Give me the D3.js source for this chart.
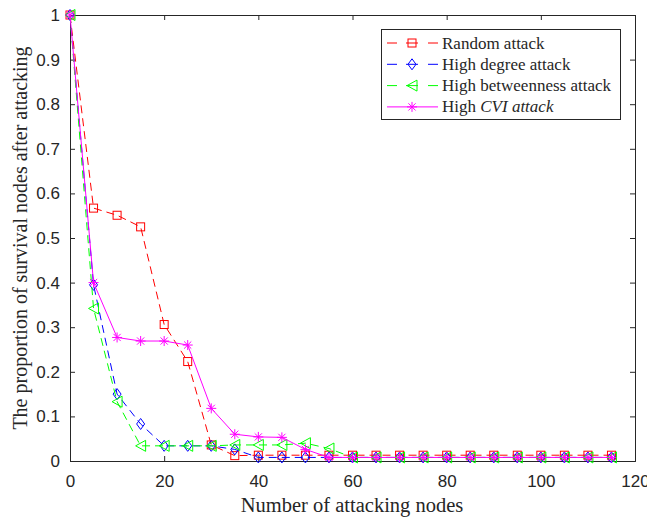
<!DOCTYPE html>
<meta charset="utf-8">
<body style="margin:0;background:#fff">
<svg id="chart" width="647" height="520"></svg>
</body>

<style>
.tick text { font-family: "Liberation Sans", Arial, sans-serif; font-size: 17px; fill: #262626; }
.axis path, .axis line { stroke: #262626; }
.lbl { font-family: "Liberation Serif", "Times New Roman", serif; fill: #262626; }
</style>

<script src="https://d3js.org/d3.v7.min.js"></script>
<script>

// number of attacking nodes
var nodes = [0, 5, 10, 15, 20, 25, 30, 35, 40, 45, 50, 55, 60, 65, 70, 75, 80, 85, 90, 95, 100, 105, 110, 115];

// proportion of survival nodes, one list per attack
var randomAttack = [1, 0.567, 0.551, 0.525, 0.306, 0.223, 0.036, 0.012, 0.013, 0.013, 0.013, 0.013, 0.013, 0.013, 0.013, 0.013, 0.013, 0.013, 0.013, 0.013, 0.013, 0.013, 0.013, 0.013];
var degreeAttack = [1, 0.395, 0.150, 0.083, 0.034, 0.034, 0.034, 0.026, 0.008, 0.008, 0.008, 0.008, 0.008, 0.008, 0.008, 0.008, 0.008, 0.008, 0.008, 0.008, 0.008, 0.008, 0.008, 0.008];
var betweenAttack = [1, 0.342, 0.133, 0.034, 0.034, 0.034, 0.034, 0.036, 0.036, 0.036, 0.040, 0.028, 0.008, 0.008, 0.008, 0.008, 0.008, 0.008, 0.008, 0.008, 0.008, 0.008, 0.008, 0.008];
var cviAttack = [1, 0.400, 0.277, 0.269, 0.269, 0.260, 0.118, 0.060, 0.054, 0.053, 0.026, 0.008, 0.008, 0.008, 0.008, 0.008, 0.008, 0.008, 0.008, 0.008, 0.008, 0.008, 0.008, 0.008];

var xTicks = [0, 20, 40, 60, 80, 100, 120];
var yTicks = [0, 0.1, 0.2, 0.3, 0.4, 0.5, 0.6, 0.7, 0.8, 0.9, 1];

var series = [
  {name: "Random attack", values: randomAttack, color: "#ff0000", dash: "8,5", marker: "square"},
  {name: "High degree attack", values: degreeAttack, color: "#0000ff", dash: "8,5", marker: "diamond"},
  {name: "High betweenness attack", values: betweenAttack, color: "#00ff00", dash: "8,5", marker: "triangle"},
  {name: "High CVI attack", values: cviAttack, color: "#ff00ff", dash: null, marker: "star"}
];

var svg = d3.select("#chart");
var mLeft = 70, mRight = 635, mTop = 15, mBottom = 461;

var x = d3.scaleLinear().domain([0, 120]).range([mLeft, mRight]);
var y = d3.scaleLinear().domain([0, 1]).range([mBottom, mTop]);

// axes, ticks pointing inward like matlab
svg.append("g").attr("class", "axis")
    .attr("transform", "translate(0," + mBottom + ")")
    .call(d3.axisBottom(x).tickValues(xTicks).tickSize(-5).tickPadding(14).tickFormat(d3.format("d")));
svg.append("g").attr("class", "axis")
    .attr("transform", "translate(" + mLeft + ",0)")
    .call(d3.axisLeft(y).tickValues(yTicks).tickSize(-5).tickPadding(10).tickFormat(d => d === 0 || d === 1 ? d : d3.format(".1f")(d)));
svg.append("g").attr("class", "axis")
    .attr("transform", "translate(0," + mTop + ")")
    .call(d3.axisTop(x).tickValues(xTicks).tickSize(-5).tickFormat(""));
svg.append("g").attr("class", "axis")
    .attr("transform", "translate(" + mRight + ",0)")
    .call(d3.axisRight(y).tickValues(yTicks).tickSize(-5).tickFormat(""));
svg.selectAll(".axis .domain").attr("stroke-width", 1);

// markers
function drawMarker(g, type, color) {
  if (type == "square") {
    g.append("rect").attr("x", -4).attr("y", -4).attr("width", 8).attr("height", 8)
        .attr("fill", "none").attr("stroke", color);
  } else if (type == "diamond") {
    g.append("path").attr("d", "M0,-5.5L4,0L0,5.5L-4,0Z").attr("fill", "none").attr("stroke", color);
  } else if (type == "triangle") {
    g.append("path").attr("d", "M-5,0L5,-5.5L5,5.5Z").attr("fill", "none").attr("stroke", color);
  } else {
    g.append("path").attr("d", "M0,-5V5M-5,0H5M-3.6,-3.6L3.6,3.6M-3.6,3.6L3.6,-3.6")
        .attr("fill", "none").attr("stroke", color);
  }
}

var line = d3.line().x((d, i) => x(nodes[i])).y(d => y(d));

series.forEach(function(s) {
  svg.append("path")
      .datum(s.values)
      .attr("d", line)
      .attr("fill", "none")
      .attr("stroke", s.color)
      .attr("stroke-width", 1)
      .attr("stroke-dasharray", s.dash);

  svg.append("g").selectAll("g")
    .data(s.values)
    .enter()
    .append("g")
      .attr("transform", (d, i) => "translate(" + x(nodes[i]) + "," + y(d) + ")")
      .each(function() { drawMarker(d3.select(this), s.marker, s.color); });
});

// axis labels
svg.append("text").attr("class", "lbl")
    .attr("x", 352).attr("y", 512)
    .attr("text-anchor", "middle").style("font-size", "20.5px")
    .text("Number of attacking nodes");
svg.append("text").attr("class", "lbl")
    .attr("transform", "translate(27," + (mTop + mBottom) / 2 + ") rotate(-90)")
    .attr("text-anchor", "middle").style("font-size", "20px")
    .text("The proportion of survival nodes after attacking");

// legend
var legend = svg.append("g");
legend.append("rect")
    .attr("x", 381.5).attr("y", 29.5).attr("width", 239).attr("height", 90)
    .attr("fill", "#fff").attr("stroke", "#262626");

series.forEach(function(s, i) {
  var ly = 43 + i * 21.3;
  var segs = s.dash ? [[387, 397], [406, 418], [428, 438]] : [[387, 438]];
  segs.forEach(function(sg) {
    legend.append("line")
        .attr("x1", sg[0]).attr("x2", sg[1]).attr("y1", ly).attr("y2", ly)
        .attr("stroke", s.color);
  });
  var m = legend.append("g").attr("transform", "translate(412," + ly + ")");
  drawMarker(m, s.marker, s.color);
  var t = legend.append("text").attr("class", "lbl")
      .attr("x", 442).attr("y", ly + 5.5).style("font-size", "17px");
  if (s.name == "High CVI attack") {
    t.append("tspan").text("High ");
    t.append("tspan").style("font-style", "italic").text("CVI attack");
  } else {
    t.text(s.name);
  }
});

</script>
